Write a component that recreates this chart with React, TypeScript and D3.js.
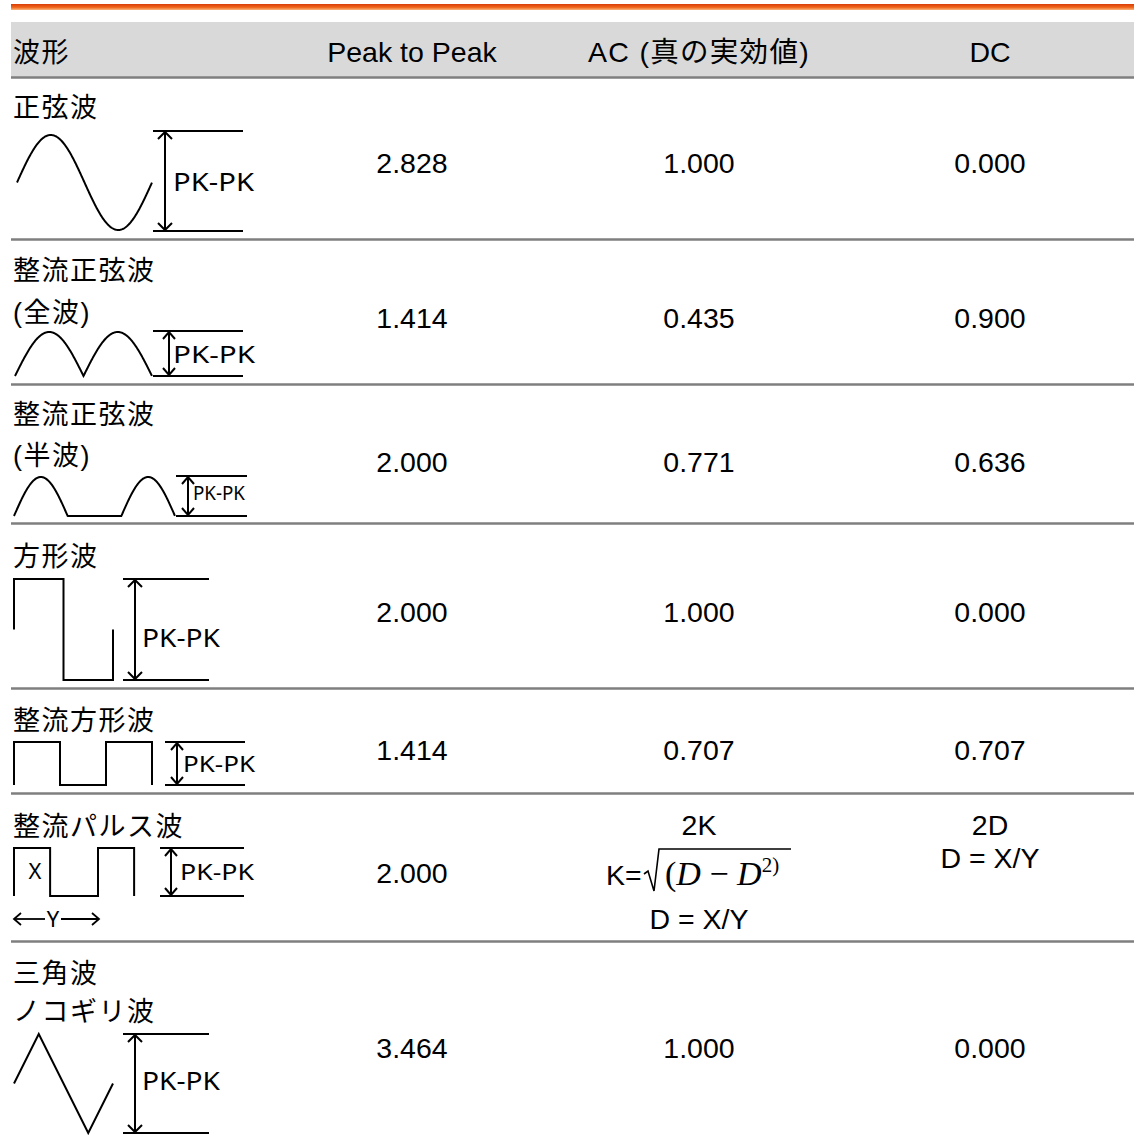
import React from "react";
import { line, range, scaleLinear, scaleOrdinal } from "d3";

// table content
const headers = ["波形", "Peak to Peak", "AC (真の実効値)", "DC"];
const waveNames = [
  ["正弦波"],
  ["整流正弦波", "(全波)"],
  ["整流正弦波", "(半波)"],
  ["方形波"],
  ["整流方形波"],
  ["整流パルス波"],
  ["三角波", "ノコギリ波"]
];
const peakToPeak = ["2.828", "1.414", "2.000", "2.000", "1.414", "2.000", "3.464"];
const acValues = ["1.000", "0.435", "0.771", "1.000", "0.707", "", "1.000"];
const dcValues = ["0.000", "0.900", "0.636", "0.000", "0.707", "", "0.000"];
const pulseAc = ["2K", "K=", "D = X/Y"];
const pulseDc = ["2D", "D = X/Y"];
const pkLabel = "PK-PK";

// layout
const W = 1134;
const H = 1135;
const rowEdges = [78, 240, 385, 524, 689, 794, 942, 1135];
const titleBase = [[117], [280, 322], [424, 465], [566], [730], [836], [983, 1021]];
const valueBase = [173, 328, 472, 622, 760, 883, 1058];
const pk = [
  { ax: 165, x0: 153, x1: 243, top: 131, bot: 231, tx: 173, ty: 191, tw: 81, fs: 25 },
  { ax: 169, x0: 153, x1: 243, top: 331, bot: 376, tx: 173, ty: 363, tw: 82, fs: 23 },
  { ax: 188, x0: 176, x1: 247, top: 476, bot: 516, tx: 193, ty: 500, tw: 52, fs: 19 },
  { ax: 135, x0: 123, x1: 209, top: 579, bot: 680, tx: 142, ty: 647, tw: 78, fs: 25 },
  { ax: 177, x0: 165, x1: 245, top: 742, bot: 785, tx: 183, ty: 772, tw: 72, fs: 21 },
  { ax: 171, x0: 160, x1: 244, top: 848, bot: 896, tx: 180, ty: 880, tw: 74, fs: 22 },
  { ax: 135, x0: 123, x1: 209, top: 1034, bot: 1133, tx: 142, ty: 1090, tw: 78, fs: 25 }
];

const colX = scaleOrdinal<string, number>().domain(headers).range([13, 412, 699, 990]);

const SANS = "'Liberation Sans', Arial, 'Noto Sans CJK JP', sans-serif";
const JP = "'Liberation Sans', 'Noto Sans CJK JP', sans-serif";
const PKFONT = "'Noto Sans', 'Open Sans', sans-serif";

const ln = line<[number, number]>();

function waves(): string[] {
  const out: string[] = [];
  // sine
  let xs = scaleLinear().domain([0, 2 * Math.PI]).range([17, 152]);
  let ys = scaleLinear().domain([-1, 1]).range([230, 135]);
  out.push(ln(range(0, 2 * Math.PI + 0.001, 0.02).map(t => [xs(t), ys(Math.sin(t))]))!);
  // full wave rectified
  xs = scaleLinear().domain([0, 2 * Math.PI]).range([15, 152]);
  ys = scaleLinear().domain([0, 1]).range([376, 332]);
  out.push(ln(range(0, 2 * Math.PI + 0.001, 0.02).map(t => [xs(t), ys(Math.abs(Math.sin(t)))]))!);
  // half wave rectified
  xs = scaleLinear().domain([0, 3 * Math.PI]).range([14, 175]);
  ys = scaleLinear().domain([0, 1]).range([516, 477]);
  out.push(ln(range(0, 3 * Math.PI + 0.001, 0.02).map(t => [xs(t), ys(Math.max(0, Math.sin(t)))]))!);
  // square
  xs = scaleLinear().domain([0, 2]).range([14, 113]);
  ys = scaleLinear().domain([-1, 1]).range([680, 579]);
  out.push(ln([[0, 0], [0, 1], [1, 1], [1, -1], [2, -1], [2, 0]].map(([a, b]) => [xs(a), ys(b)]))!);
  // rectified square
  xs = scaleLinear().domain([0, 3]).range([14, 152]);
  ys = scaleLinear().domain([0, 1]).range([785, 742]);
  out.push(ln([[0, 0], [0, 1], [1, 1], [1, 0], [2, 0], [2, 1], [3, 1], [3, 0]].map(([a, b]) => [xs(a), ys(b)]))!);
  // pulse
  xs = scaleLinear().domain([0, 1]).range([14, 98]);
  ys = scaleLinear().domain([0, 1]).range([896, 848]);
  out.push(ln([[0, 0], [0, 1], [0.43, 1], [0.43, 0], [1, 0], [1, 1], [1.43, 1], [1.43, 0]].map(([a, b]) => [xs(a), ys(b)]))!);
  // triangle
  xs = scaleLinear().domain([0, 1]).range([14, 113]);
  ys = scaleLinear().domain([-1, 1]).range([1133, 1034]);
  out.push(ln([[0, 0], [0.25, 1], [0.75, -1], [1, 0]].map(([a, b]) => [xs(a), ys(b)]))!);
  return out;
}

const PkIndicator = ({ p }: { p: typeof pk[0] }) => {
  const hw = p.bot - p.top < 50 ? 6 : 7;
  return (
    <g stroke="#000" strokeWidth={2} fill="none">
      <line x1={p.x0} x2={p.x1} y1={p.top} y2={p.top} />
      <line x1={p.x0} x2={p.x1} y1={p.bot} y2={p.bot} />
      <line x1={p.ax} x2={p.ax} y1={p.top} y2={p.bot} />
      <path d={`M${p.ax - hw},${p.top + 8}L${p.ax},${p.top + 1}L${p.ax + hw},${p.top + 8}`} />
      <path d={`M${p.ax - hw},${p.bot - 8}L${p.ax},${p.bot - 1}L${p.ax + hw},${p.bot - 8}`} />
      <text x={p.tx} y={p.ty} stroke="none" fill="#000" fontFamily={PKFONT} fontSize={p.fs}
        textLength={p.tw} lengthAdjust="spacingAndGlyphs">{pkLabel}</text>
    </g>
  );
};

export default function App() {
  const paths = waves();
  const acX = colX(headers[2]);
  const dcX = colX(headers[3]);
  return (
    <svg width={W} height={H} style={{ position: "absolute", left: 0, top: 0 }}>
      <defs>
        <linearGradient id="bar" x1="0" y1="0" x2="0" y2="1">
          <stop offset="0" stopColor="#d83c08" />
          <stop offset="0.55" stopColor="#f0661a" />
          <stop offset="1" stopColor="#fab780" />
        </linearGradient>
      </defs>
      <rect width={W} height={H} fill="#fff" />
      <rect x={11} y={4} width={W - 11} height={6} fill="url(#bar)" />
      <rect x={11} y={22} width={W - 11} height={55} fill="#d9d9d9" />

      {/* header */}
      {headers.map((h, i) => (
        <text key={h} x={colX(h)} y={62} fontFamily={JP} fontSize={i === 0 ? 27 : 28.5}
          letterSpacing={i === 0 ? 1.5 : i === 2 ? 1.3 : 0}
          textAnchor={i === 0 ? "start" : "middle"}>{h}</text>
      ))}

      {/* row separators */}
      {rowEdges.slice(0, -1).map(y => (
        <line key={y} x1={11} x2={W} y1={y - 0.5} y2={y - 0.5} stroke="#7f7f7f" strokeWidth={2.5} />
      ))}

      {/* names */}
      {waveNames.map((lines, i) => lines.map((t, j) => (
        <text key={i + "-" + j} x={13} y={titleBase[i][j]} fontFamily={JP} fontSize={27}
          letterSpacing={1.5}>{t}</text>
      )))}

      {/* waveforms */}
      {paths.map((d, i) => (
        <path key={i} d={d} fill="none" stroke="#000" strokeWidth={2} strokeLinejoin="miter" />
      ))}
      {pk.map((p, i) => <PkIndicator key={i} p={p} />)}

      {/* pulse extras */}
      <text x={35} y={879} textAnchor="middle" fontFamily={PKFONT} fontSize={22}>X</text>
      <text x={53} y={927} textAnchor="middle" fontFamily={PKFONT} fontSize={22}>Y</text>
      <g stroke="#000" strokeWidth={1.8} fill="none">
        <line x1={14} x2={45} y1={919} y2={919} />
        <path d="M21,913L14,919L21,925" />
        <line x1={61} x2={99} y1={919} y2={919} />
        <path d="M92,913L99,919L92,925" />
      </g>

      {/* values */}
      {peakToPeak.map((v, i) => (
        <text key={"p" + i} x={colX(headers[1])} y={valueBase[i]} textAnchor="middle"
          fontFamily={SANS} fontSize={28.5}>{v}</text>
      ))}
      {acValues.map((v, i) => v && (
        <text key={"a" + i} x={acX} y={valueBase[i]} textAnchor="middle"
          fontFamily={SANS} fontSize={28.5}>{v}</text>
      ))}
      {dcValues.map((v, i) => v && (
        <text key={"d" + i} x={dcX} y={valueBase[i]} textAnchor="middle"
          fontFamily={SANS} fontSize={28.5}>{v}</text>
      ))}

      {/* pulse AC formula */}
      <text x={acX} y={835} textAnchor="middle" fontFamily={SANS} fontSize={28.5}>{pulseAc[0]}</text>
      <text x={606} y={885} fontFamily={SANS} fontSize={28.5}>{pulseAc[1]}</text>
      <path d="M644,874L648,871L654,891L659,849L791,849" fill="none" stroke="#000" strokeWidth={1.6} />
      <text x={665} y={885} fontFamily="'Liberation Serif', 'Times New Roman', serif" fontSize={34}>
        <tspan>(</tspan>
        <tspan fontStyle="italic">D</tspan>
        <tspan> − </tspan>
        <tspan fontStyle="italic">D</tspan>
        <tspan fontSize={21} dy={-13}>2)</tspan>
      </text>
      <text x={acX} y={929} textAnchor="middle" fontFamily={SANS} fontSize={28.5}>{pulseAc[2]}</text>

      {/* pulse DC */}
      <text x={dcX} y={835} textAnchor="middle" fontFamily={SANS} fontSize={28.5}>{pulseDc[0]}</text>
      <text x={dcX} y={868} textAnchor="middle" fontFamily={SANS} fontSize={28.5}>{pulseDc[1]}</text>
    </svg>
  );
}
